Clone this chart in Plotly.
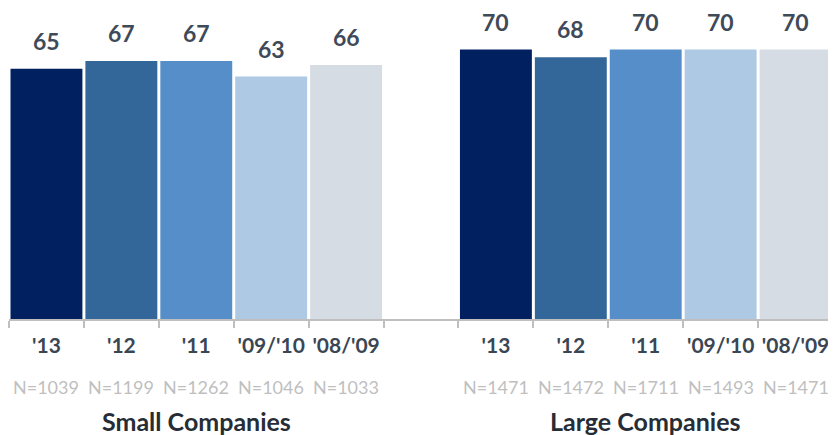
import plotly.graph_objects as go

years = ["'13", "'12", "'11", "'09/'10", "'08/'09"]
small_values = [65, 67, 67, 63, 66]
large_values = [70, 68, 70, 70, 70]
small_n = ["N=1039", "N=1199", "N=1262", "N=1046", "N=1033"]
large_n = ["N=1471", "N=1472", "N=1711", "N=1493", "N=1471"]
groups = ["Small Companies", "Large Companies"]
colors = ["#002060", "#336699", "#558EC8", "#ADC9E4", "#D6DCE4"]

FONT = "Lato"
small_x = list(range(0, 5))
large_x = list(range(6, 11))
xs = small_x + large_x
vals = small_values + large_values
labels = years + years
ns = small_n + large_n

fig = go.Figure()
fig.add_trace(go.Bar(
    x=xs, y=vals,
    marker=dict(color=colors + colors, line=dict(width=0)),
    hoverinfo="skip", showlegend=False,
))

annotations = []
for x, v in zip(xs, vals):
    annotations.append(dict(x=x, y=v, xref="x", yref="y", text=f"<b>{v}</b>",
                            showarrow=False, yanchor="middle", yshift=28,
                            borderpad=0,
                            font=dict(family=FONT, size=23, color="#3F4A58")))
for x, n in zip(xs, ns):
    annotations.append(dict(x=x, y=0, xref="x", yref="paper", text=n,
                            showarrow=False, yanchor="middle", yshift=-68,
                            font=dict(family=FONT, size=18, color="#BFBFBF")))
for gx, g in zip([2, 8], groups):
    annotations.append(dict(x=gx, y=0, xref="x", yref="paper", text=f"<b>{g}</b>",
                            showarrow=False, yanchor="middle", yshift=-102,
                            font=dict(family=FONT, size=25, color="#262D36")))

boundaries = [i - 0.5 for i in range(0, 6)] + [i - 0.5 for i in range(6, 12)]

fig.update_layout(
    width=828, height=427,
    margin=dict(l=1, r=3, t=0, b=116, pad=0),
    paper_bgcolor="white", plot_bgcolor="white",
    bargap=0.04,
    xaxis=dict(range=[-0.5, 10.5], tickmode="array", tickvals=xs, ticktext=[f"<b>{l}</b>" for l in labels],
               ticks="outside", ticklen=8, tickcolor="rgba(0,0,0,0)",
               tickfont=dict(family=FONT, size=21, color="#3B4654"),
               showgrid=False, zeroline=False, showline=False),
    xaxis2=dict(range=[-0.5, 10.5], overlaying="x", side="bottom", anchor="y",
                tickmode="array", tickvals=boundaries, showticklabels=False,
                ticks="outside", ticklen=7, tickwidth=2, tickcolor="#BFBFBF",
                showline=True, linecolor="#BFBFBF", linewidth=2,
                showgrid=False, zeroline=False),
    yaxis=dict(range=[0, 80.8], visible=False),
    annotations=annotations,
)
# dummy trace to activate xaxis2
fig.add_trace(go.Scatter(x=[None], y=[None], xaxis="x2", yaxis="y", showlegend=False, hoverinfo="skip"))

fig.write_html("out.html")
